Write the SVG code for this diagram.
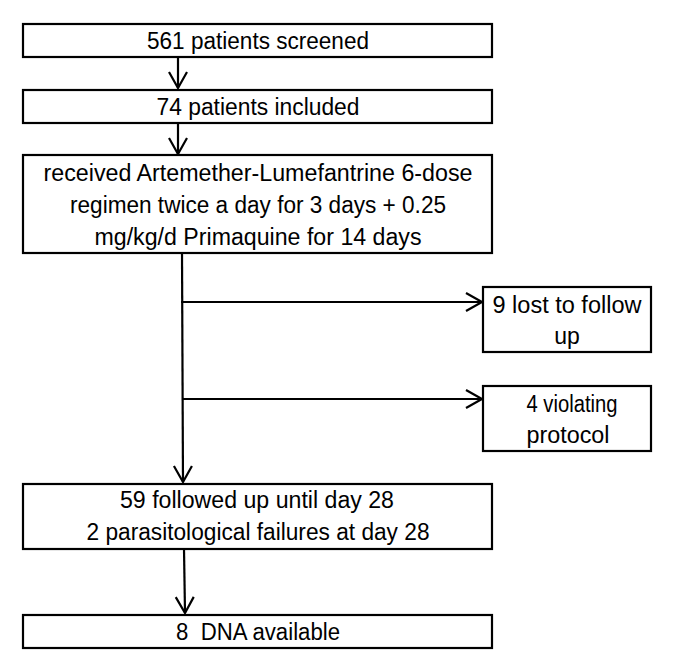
<svg xmlns="http://www.w3.org/2000/svg" width="685" height="670" viewBox="0 0 685 670">
<style>
.box{fill:#fff;stroke:#000;stroke-width:2.2}
.t{font-family:"Liberation Sans",Arial,sans-serif;font-size:23px;fill:#000;text-anchor:middle}
.c{stroke:#000;stroke-width:2.2;fill:none}
</style>
<defs>
<marker id="ah" markerWidth="20" markerHeight="22" refX="17" refY="11" orient="auto" markerUnits="userSpaceOnUse">
<polyline points="1,2 17,11 1,20" fill="none" stroke="#000" stroke-width="2.2"/>
</marker>
</defs>
<rect width="685" height="670" fill="#fff"/>
<g id="connectors">
<line class="c" x1="178" y1="57" x2="178" y2="88" marker-end="url(#ah)"/>
<line class="c" x1="178" y1="123" x2="178" y2="154" marker-end="url(#ah)"/>
<line class="c" x1="182" y1="253" x2="183" y2="482" marker-end="url(#ah)"/>
<line class="c" x1="181" y1="302" x2="482" y2="302" marker-end="url(#ah)"/>
<line class="c" x1="182" y1="399" x2="482" y2="399" marker-end="url(#ah)"/>
<line class="c" x1="184" y1="549" x2="185" y2="613" marker-end="url(#ah)"/>
</g>
<g id="n1">
<rect class="box" x="23" y="24" width="469" height="33"/>
<text class="t" x="258" y="49" textLength="222" lengthAdjust="spacingAndGlyphs">561 patients screened</text>
</g>
<g id="n2">
<rect class="box" x="23" y="90" width="469" height="33"/>
<text class="t" x="258" y="115" textLength="203" lengthAdjust="spacingAndGlyphs">74 patients included</text>
</g>
<g id="n3">
<rect class="box" x="23" y="155" width="469" height="98"/>
<text class="t" x="258" y="181" textLength="429" lengthAdjust="spacingAndGlyphs">received Artemether-Lumefantrine 6-dose</text>
<text class="t" x="258" y="213" textLength="376" lengthAdjust="spacingAndGlyphs">regimen twice a day for 3 days + 0.25</text>
<text class="t" x="258" y="245" textLength="327" lengthAdjust="spacingAndGlyphs">mg/kg/d Primaquine for 14 days</text>
</g>
<g id="n4">
<rect class="box" x="483" y="287" width="168" height="65"/>
<text class="t" x="567" y="313" textLength="149" lengthAdjust="spacingAndGlyphs">9 lost to follow</text>
<text class="t" x="567" y="344">up</text>
</g>
<g id="n5">
<rect class="box" x="483" y="386" width="168" height="65"/>
<text class="t" x="572" y="412" textLength="91" lengthAdjust="spacingAndGlyphs">4 violating</text>
<text class="t" x="568" y="443" textLength="83" lengthAdjust="spacingAndGlyphs">protocol</text>
</g>
<g id="n6">
<rect class="box" x="23" y="484" width="469" height="65"/>
<text class="t" x="257" y="508" textLength="274" lengthAdjust="spacingAndGlyphs">59 followed up until day 28</text>
<text class="t" x="258" y="540" textLength="343" lengthAdjust="spacingAndGlyphs">2 parasitological failures at day 28</text>
</g>
<g id="n7">
<rect class="box" x="23" y="615" width="469" height="33"/>
<text class="t" x="258" y="640" textLength="164" lengthAdjust="spacingAndGlyphs" xml:space="preserve">8  DNA available</text>
</g>
</svg>
